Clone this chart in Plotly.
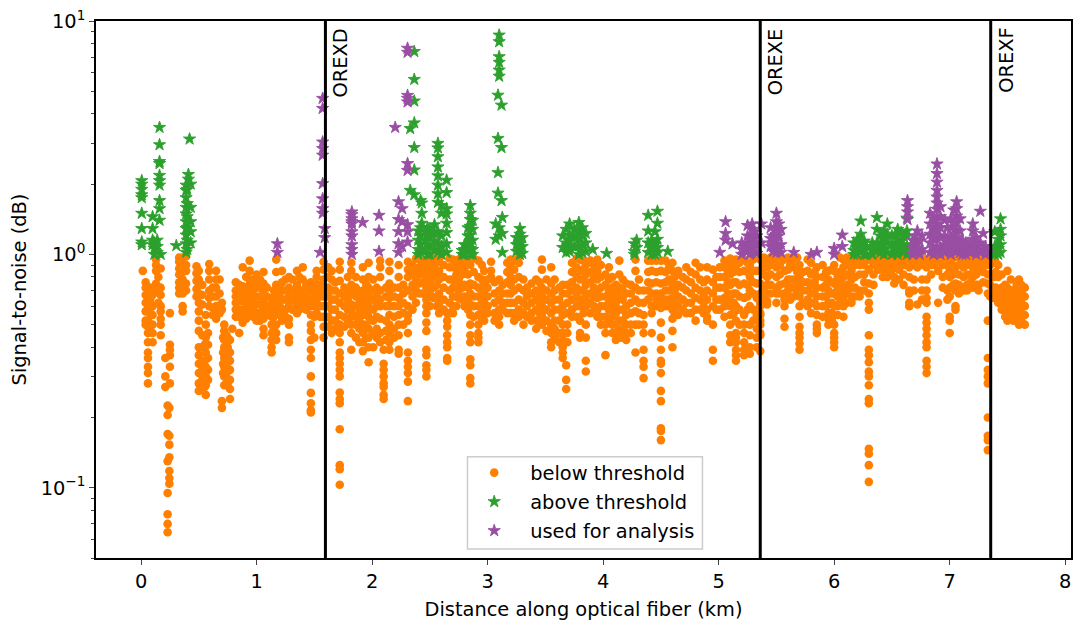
import plotly.graph_objects as go

below_columns = [
(0.015,[.85]),(0.04,[.76,.72,.67,.62,.57,.52,.50]),(0.06,[.71,.64,.59,.52,.49,.46,.42,.38,.36,.33,.31,.28]),
(0.10,[.67,.60,.55,.50,.46,.42]),(0.13,[.95,.90,.85,.75,.70]),(0.17,[.87,.72,.67,.60,.57,.53,.50,.45]),
(0.25,[.56,.41,.39,.37,.33,.28]),(0.21,[.36,.30,.27]),(0.23,[.225,.205,.17,.13,.095,.077,.07,.0645]),(0.245,[.22,.167,.153,.135,.118,.11,.104]),
(0.33,[.97,.93,.87,.82,.76,.72,.68]),(0.36,[.97,.91,.84,.78,.72,.68,.60,.57]),(0.39,[.98,.90,.85,.75,.70]),
(0.48,[.89,.83,.77,.71,.66]),(0.50,[.85,.78,.68,.62,.57,.52,.47,.40,.37,.34,.31,.28,.26]),
(0.59,[.91,.85,.78,.70,.65,.60]),(0.56,[.55,.50,.44,.38,.33,.30,.275,.25]),(0.58,[.46,.41,.36,.32,.29]),
(0.65,[.85,.78,.72,.66,.60,.56,.53]),(0.72,[.50,.47,.43,.40,.36,.33,.30,.275]),(0.77,[.43,.38,.35,.32,.29,.265,.24]),
(0.70,[.235,.22,.62,.58]),(0.79,[.48]),(0.85,[.46]),
(0.82,[.76,.70,.66,.62,.58,.54]),(0.88,[.88,.73,.68,.63,.58,.55,.51]),(0.94,[.94,.85,.78,.74,.70,.65,.60,.55]),
(1.0,[.82,.76,.72,.66,.61,.56,.52]),(1.06,[.84,.75,.70,.64,.58,.53,.48,.45]),(1.13,[.62,.58,.54,.50,.46,.43,.40,.38]),
(1.17,[.95,.84,.74,.68,.62,.56,.50,.46,.43]),(1.22,[.85,.76,.70,.64,.58,.52]),(1.28,[.80,.72,.66,.60,.53,.50,.44,.42]),
(1.35,[.85,.74,.68,.64,.60,.56]),(1.40,[.88,.78,.70,.65,.60]),
(1.47,[.76,.70,.64,.60,.55,.50,.47,.43,.39,.36,.30,.255,.23,.215,.21]),(1.52,[.85,.80,.74,.69,.64,.60,.56]),
(1.58,[.93,.86,.78,.70,.66,.60,.54,.49,.44]),(1.65,[.85,.78,.70,.64,.58,.52,.46]),
(1.72,[.93,.86,.77,.68,.62,.55,.50,.46,.42,.38,.36,.34,.32,.30,.256,.24,.23,.178,.125,.12,.103]),
(1.82,[.92,.85,.74,.68,.61,.57,.54,.50,.46,.39]),(1.92,[.88,.78,.70,.65,.60,.55,.50,.46,.42,.385]),
(1.97,[.92,.80,.72,.66,.60,.54,.48,.44,.40,.345]),(2.07,[.94,.88,.80,.70,.64,.60,.53,.46,.42]),
(2.10,[.39,.34,.32,.30,.28,.27,.25,.24]),(2.15,[.93,.85,.75,.70,.65,.60,.55,.50,.46,.42,.39]),
(2.23,[.90,.80,.72,.65,.60,.55,.50,.45,.39,.375]),(2.31,[.93,.86,.80,.70,.60,.55,.52,.46,.38,.35,.33,.31,.285,.235]),
(2.41,[.95,.88,.82,.75,.68]),(2.47,[.95,.88,.80,.72,.64,.60,.56,.51,.47,.39,.37,.335,.32,.30]),
(2.53,[.96,.88,.80,.72,.65]),(2.58,[.95,.85,.78,.68,.64,.60,.56]),(2.65,[.56,.52,.49,.45,.42,.40,.36,.35]),
(2.70,[.95,.88,.78,.72,.66,.60,.56]),(2.75,[.95,.85,.78,.70,.65]),(2.80,[.95,.85,.74,.66,.60]),
(2.85,[.90,.75,.68,.61,.55,.50,.45,.42,.355,.335,.295,.28]),(2.92,[.94,.80,.72,.66,.60,.55,.50,.46,.44,.42]),
(2.97,[.85,.75,.68,.62,.56,.52]),(3.03,[.93,.85,.80]),(3.10,[.78,.70,.64,.58,.54,.50]),
(3.20,[.95,.88,.80,.74,.68,.62,.56]),(3.27,[.97,.92,.80,.72,.64,.58,.54]),(3.38,[.75,.68,.62,.56,.52]),
(3.47,[.95,.86,.72,.66,.60,.55,.50]),(3.55,[.88,.75,.68,.62,.56,.50,.46,.42,.40]),(3.65,[.74,.68,.60,.55,.50,.46,.43,.40,.38,.36]),
(3.68,[.335,.29,.265]),(3.80,[.95,.85,.78,.70,.64,.60,.52,.46,.44]),(3.85,[.90,.82,.74,.66,.60,.50,.44,.35,.315]),
(3.95,[.95,.85,.78,.70,.65,.58,.54]),(4.02,[.37]),(4.05,[.88,.78,.70,.64,.58,.52]),(4.14,[.94,.82,.72,.65,.58,.52,.47,.44]),
(4.20,[.75,.68,.60,.55,.50,.46,.43]),(4.28,[.95,.85,.72,.64,.57,.50,.38]),(4.35,[.70,.62,.55,.50,.46,.39,.35,.33,.295]),
(4.42,[.94,.85,.75,.68,.60,.56,.46]),(4.50,[.94,.85,.75,.68,.63,.59,.51,.44,.39,.35,.34,.31,.26,.235,.18,.175,.16]),
(4.60,[.92,.85,.75,.72,.65,.58,.53,.47,.40]),(4.65,[.85,.74,.66,.60,.55]),(4.72,[.88,.78,.70,.62,.56]),
(4.80,[.92,.82,.72,.65,.58,.52]),(4.90,[.88,.78,.70,.64,.58,.54,.52]),(4.95,[.86,.76,.68,.60,.50,.39,.35]),
(5.05,[.94,.88,.80,.72,.65,.60,.54]),(5.10,[.96,.90,.82,.74,.66,.60,.55,.50,.45,.42]),
(5.15,[.95,.86,.76,.68,.60,.52,.46,.44,.42,.39,.37,.35]),(5.22,[.95,.85,.75,.65,.55,.50,.46,.42,.39,.37]),
(5.27,[.90,.80,.70,.60,.50,.45,.40,.375]),(5.33,[.85,.75,.65,.55,.48,.44,.40]),
(5.36,[.95,.85,.75,.68,.62,.56,.52,.50,.45,.385,.60,.55,.46]),(5.42,[.95,.88,.80,.74,.68,.63,.61]),
(5.50,[.95,.88,.80,.72,.68,.62]),(5.57,[.95,.85,.75,.68,.64,.60,.53,.49]),(5.65,[.95,.88,.78,.72,.66]),
(5.70,[.90,.80,.72,.66,.60,.54,.49,.46,.44,.415,.39]),(5.77,[.95,.85,.76,.70,.64,.60]),
(5.85,[.88,.80,.72,.66,.60,.55,.50,.48,.46]),(5.95,[.85,.78,.70,.62,.56,.53,.50]),
(6.0,[.90,.85,.75,.68,.60,.55,.50,.46,.44,.42,.40]),(6.08,[.95,.88,.80,.72,.66,.60,.54]),
(6.15,[.95,.85,.78,.72,.66,.62]),(6.22,[.95,.90,.82,.70,.66]),
(6.30,[.95,.86,.75,.68,.62,.58,.45,.39,.37,.345,.315,.30,.275,.24,.23,.147,.14,.125,.106]),
(6.42,[.95,.90,.86,.80]),(6.52,[.95,.88,.80,.75]),(6.65,[.95,.88,.80,.70,.68,.62,.60]),(6.72,[.95,.88,.61]),
(6.80,[.95,.88,.78,.70,.65,.62,.54,.51,.48,.45,.42,.40,.35,.33,.31]),(6.90,[.95,.85,.62]),
(7.0,[.95,.86,.80,.72,.66,.54,.52,.46]),(7.05,[.88,.75,.70,.60,.58]),(7.12,[.95,.88,.80,.70]),
(7.20,[.95,.88,.80,.72]),(7.25,[.95,.85,.74,.70]),(7.33,[.95,.90,.82,.75,.68,.52,.36,.32,.30,.28,.20,.167,.16,.145]),
(7.38,[.95,.80,.70,.65]),(7.42,[.90,.80,.70,.62]),(7.50,[.85,.72,.66,.60,.55,.52]),(7.55,[.70,.65,.60,.56,.52]),
(7.60,[.78,.70,.65,.60,.55,.50]),(7.65,[.72,.66,.60,.55,.50]),
]

below_fill_columns = [
(0.08,[.72,.64,.56]),(0.15,[.80,.70,.62]),(0.35,[.88,.74]),(0.53,[.74,.67,.61,.45,.40,.35,.32,.29]),(0.62,[.72,.66,.59,.55]),(0.68,[.78,.68,.56]),
(0.55,[.41,.35,.31,.27]),(0.71,[.44,.38,.34,.31]),(0.74,[.45,.38,.34,.31,.28]),(0.75,[.40,.36,.32,.28]),(0.85,[.74,.68,.63,.58,.54]),(0.91,[.80,.72,.66,.62,.57,.53]),(0.97,[.78,.72,.67,.62,.58,.54]),
(1.03,[.78,.72,.66,.61,.56,.52]),(1.09,[.72,.66,.60,.55]),(1.15,[.70,.66,.60,.54,.48]),(1.20,[.72,.66,.60,.55]),(1.25,[.78,.70,.64,.58,.54]),
(1.31,[.78,.70,.64,.58]),(1.37,[.80,.70,.62,.58]),(1.43,[.74,.68,.62,.58]),(1.50,[.72,.66,.60,.54,.44]),(1.55,[.74,.66,.60,.54]),
(1.62,[.88,.80,.72,.66,.60,.54,.49]),(1.68,[.76,.70,.64,.58,.52,.48]),(1.76,[.72,.66,.60,.54,.49]),(1.79,[.80,.70,.64,.58,.52]),
(1.86,[.80,.72,.66,.60,.54,.50,.44]),(1.89,[.68,.62,.56,.52,.48,.42]),(1.95,[.74,.68,.62,.56,.50,.44]),(2.01,[.78,.70,.64,.58,.52,.46,.40]),
(2.04,[.72,.66,.60,.54,.48,.44]),(2.12,[.72,.66,.60,.52,.47,.43]),(2.19,[.72,.66,.60,.54,.48,.44]),(2.27,[.74,.68,.62,.56,.50]),
(2.35,[.90,.82,.74,.66,.58]),(2.38,[.96,.86,.78,.70,.62]),(2.44,[.92,.84,.76,.68]),(2.50,[.92,.84,.76,.68,.60]),(2.56,[.92,.82,.74,.66,.60]),
(2.62,[.90,.80,.72,.64,.58]),(2.67,[.96,.88,.78,.70,.62,.56]),(2.73,[.92,.82,.74,.66,.60]),(2.78,[.90,.82,.72,.64]),(2.83,[.92,.82,.72,.64,.58]),
(2.88,[.96,.84,.74,.66,.60,.54]),(2.95,[.90,.78,.70,.64,.58,.53]),(3.0,[.78,.72,.66,.60,.56]),(3.06,[.76,.68,.62,.56,.52]),(3.13,[.74,.68,.62,.58]),
(3.17,[.92,.84,.76,.68,.62,.56]),(3.23,[.94,.86,.78,.70,.62,.56,.52]),(3.31,[.78,.70,.62,.56,.50]),(3.34,[.72,.66,.60,.54]),(3.42,[.78,.70,.64,.58,.52,.48]),
(3.45,[.76,.68,.62,.56,.52]),(3.51,[.78,.70,.64,.58,.52,.47]),(3.58,[.78,.70,.64,.58,.52,.48,.44]),(3.62,[.72,.64,.58,.52,.46,.42]),(3.69,[.74,.68,.62,.56,.50,.46,.42]),
(3.73,[.92,.84,.76,.70,.64,.58,.54]),(3.77,[.96,.88,.80,.72,.66,.60,.54]),(3.83,[.94,.86,.78,.70,.64,.56]),(3.89,[.94,.84,.76,.68,.62,.56]),
(3.92,[.90,.80,.72,.66,.60]),(3.98,[.90,.80,.72,.66,.60,.54,.50]),(4.02,[.82,.74,.66,.60,.54,.50,.46]),(4.08,[.80,.72,.66,.60,.54,.50,.46]),
(4.11,[.74,.68,.62,.56,.50,.46,.43]),(4.17,[.78,.70,.64,.58,.52,.48,.44]),(4.24,[.74,.68,.62,.56,.50,.46]),(4.31,[.78,.70,.62,.56,.50]),
(4.39,[.94,.84,.76,.70,.64]),(4.46,[.94,.84,.76,.68,.64,.60]),(4.54,[.94,.84,.76,.70,.64,.60]),(4.57,[.88,.78,.70,.64,.60]),(4.62,[.80,.70,.62,.56]),
(4.69,[.80,.72,.64,.58]),(4.76,[.84,.76,.68,.62,.56]),(4.84,[.88,.78,.70,.64,.58]),(4.87,[.76,.68,.62,.56]),(4.98,[.80,.72,.64,.58]),
(5.01,[.88,.80,.72,.64,.58]),(5.08,[.92,.84,.76,.68,.62]),(5.13,[.92,.84,.76,.68,.62,.56]),(5.18,[.92,.84,.74,.66,.58,.50]),(5.25,[.92,.84,.74,.66,.58]),
(5.30,[.95,.85,.76,.68,.58,.52]),(5.39,[.97,.90,.82,.72,.66]),(5.45,[.97,.90,.82,.74,.68]),(5.53,[.97,.90,.82,.74,.68]),(5.60,[.97,.86,.78,.70,.66]),
(5.62,[.90,.78,.72,.64]),(5.68,[.97,.84,.74,.68]),(5.73,[.84,.76,.70,.62]),(5.80,[.92,.82,.74,.68,.62,.56]),(5.83,[.84,.76,.68,.62]),
(5.90,[.90,.80,.72,.66,.60,.54]),(5.93,[.84,.74,.66,.60]),(5.98,[.86,.76,.68,.62,.56,.52]),(6.03,[.80,.72,.66,.60,.55]),(6.05,[.97,.84,.76,.68,.62]),
(6.11,[.97,.90,.82,.74,.68,.62]),(6.18,[.97,.90,.80,.72,.66]),(6.26,[.97,.90,.82,.76,.70]),(6.34,[.97,.90,.82,.74]),(6.38,[.97,.92,.86]),
(6.46,[.97,.92,.86,.80]),(6.49,[.97,.90,.84]),(6.56,[.97,.92,.86,.78]),(6.60,[.97,.90,.82,.74]),(6.69,[.97,.90,.78,.70]),(6.76,[.97,.90,.78,.70,.64]),
(6.84,[.97,.90,.82]),(6.87,[.97,.90]),(6.94,[.97,.90,.80,.72]),(6.98,[.97,.90,.82,.70,.64]),(7.03,[.97,.90,.82,.74]),(7.08,[.97,.90,.82,.74,.68]),
(7.15,[.97,.90,.82,.74,.70]),(7.18,[.97,.90,.82,.76]),(7.23,[.97,.90,.82,.74]),(7.29,[.97,.90,.84,.76]),(7.35,[.97,.90,.82,.74,.66]),
(7.40,[.92,.84,.72,.66]),(7.45,[.82,.72,.66,.62,.58]),(7.48,[.74,.68,.62,.58,.54]),(7.53,[.78,.70,.64,.58,.54]),(7.58,[.74,.68,.62,.56,.52]),(7.62,[.74,.68,.62,.56,.52]),
]

above_columns = [
(0.006,[2.07,2.0,1.9,1.8,1.75,1.5,1.29,1.13,1.1]),(0.10,[1.45,1.29,1.15,1.1]),(0.115,[1.12,1.06,1.0]),(0.14,[1.15,1.08,1.02]),
(0.16,[3.5,2.95,2.5,2.45,2.18,2.07,1.98,1.7,1.57,1.4]),(0.17,[1.0]),(0.305,[1.09]),(0.42,[3.12]),(0.41,[2.2,2.1]),
(0.39,[1.98,1.88,1.75,1.59,1.49,1.38,1.29,1.21,1.11,1.02]),(0.43,[2.0,1.59,1.38,1.25,1.12]),(0.40,[1.9,1.65,1.45,1.3,1.15,1.05]),
(2.365,[7.4,5.62,4.54,3.66,2.87,2.3,1.8]),(2.33,[3.46,1.88]),(2.42,[1.7,1.3,1.2,1.1,1.02]),(2.43,[1.66,1.5,1.36]),
(2.40,[1.26,1.15,1.05,1.0]),(2.46,[1.25,1.15,1.05]),(2.48,[1.3,1.2,1.1,1.0]),(2.50,[1.28,1.18,1.08,1.0]),
(2.57,[2.99,2.86,2.62,2.37,2.17,1.98,1.82,1.67,1.25,1.12,1.02]),(2.54,[1.34,1.23,1.14,1.05]),(2.60,[1.62,1.5,1.2,1.08,1.0]),
(2.645,[2.08,1.84,1.57,1.49,1.36,1.24,1.11,1.02]),(2.80,[1.1,1.05,1.0]),(2.83,[1.3,1.2,1.1,1.03]),
(2.85,[1.62,1.5,1.41,1.32,1.21,1.13,1.06,1.0]),(2.87,[1.4,1.28,1.15,1.05,1.0]),(2.78,[1.04,1.0]),
(3.10,[8.7,8.15,7.03,6.65,6.16,5.8]),(3.09,[4.81,3.14,2.24,1.83]),(3.12,[4.36,2.87,1.7]),(3.127,[1.44,1.23,1.02]),(3.07,[1.35,1.16]),(3.10,[1.3,1.2]),
(3.28,[1.29,1.22,1.16,1.11,1.06,1.0]),(3.25,[1.18,1.1,1.03]),(3.30,[1.18,1.08,1.01]),
(3.65,[1.2,1.07]),(3.68,[1.28,1.12,1.02]),(3.71,[1.35,1.21,1.14,1.07,1.03]),(3.75,[1.28,1.18,1.08]),(3.79,[1.37,1.25,1.17,1.09,1.0]),(3.82,[1.3,1.2,1.1,1.02]),(3.85,[1.23,1.12,1.03]),(3.91,[1.05]),
(4.03,[1.01]),(4.27,[1.11,1.03,1.0]),(4.29,[1.15,1.07]),(4.39,[1.47,1.26,1.12,1.02]),(4.42,[1.15,1.06,1.0]),(4.47,[1.53,1.36,1.16,1.07,1.02]),(4.45,[1.25,1.1,1.0]),(4.56,[1.03]),
(6.17,[1.12,1.04,1.0]),(6.20,[1.16,1.06,1.0]),(6.23,[1.39,1.22,1.12,1.03]),(6.26,[1.14,1.05,1.0]),(6.28,[1.08,1.0]),
(6.33,[1.12,1.05,1.0]),(6.37,[1.44,1.28,1.12,1.04]),(6.40,[1.2,1.1,1.02]),(6.43,[1.26,1.16,1.06,1.0]),(6.46,[1.35,1.22,1.12,1.02]),(6.50,[1.2,1.1,1.0]),
(6.53,[1.22,1.12,1.04]),(6.55,[1.28,1.16,1.08,1.0]),(6.58,[1.24,1.14,1.04]),(6.60,[1.2,1.1,1.02]),
(6.63,[1.43,1.26,1.2,1.08,1.0]),
(7.44,[1.42,1.28,1.2,1.1,1.02]),(7.39,[1.25,1.08,1.0]),(7.42,[1.16,1.06,1.0]),
]

used_columns = [
(1.18,[1.11,1.02]),(1.572,[4.66,4.22,3.03,2.84,2.66,2.01,1.73,1.57,1.5]),(1.59,[1.29,1.18]),(1.55,[1.02]),
(1.825,[1.52,1.48,1.42,1.38,1.35,1.25,1.2,1.1,1.05,1.0]),(1.918,[1.37]),(2.06,[1.47,1.26,1.03]),
(2.229,[1.68,1.41,1.25,1.11,1.02]),(2.307,[7.64,7.34,4.8,4.66,4.5,2.45,2.29,1.34,1.25,1.13]),(2.2,[3.5]),(2.26,[1.57,1.38,1.08]),
(5.06,[1.38,1.23,1.15]),(5.12,[1.11]),(5.01,[1.02]),(5.25,[1.33,1.2,1.1,1.03]),(5.24,[1.08]),
(5.29,[1.35,1.28,1.2,1.15,1.07,1.02]),(5.33,[1.2,1.1,1.01]),(5.37,[1.35,1.12]),(5.20,[1.12,1.05,1.0]),(5.27,[1.15,1.06,1.0]),(5.31,[1.25,1.12,1.03]),
(5.5,[1.5,1.38,1.3,1.22,1.15,1.07,1.02]),(5.45,[1.3,1.17,1.08]),(5.54,[1.28,1.1,1.02]),(5.47,[1.2,1.1,1.03]),(5.52,[1.35,1.2,1.06]),
(5.65,[1.02]),(5.8,[1.0]),(5.85,[1.02]),(6.0,[1.06,1.0]),(6.07,[1.21,1.08]),
(6.635,[1.7,1.6,1.52,1.41]),(6.72,[1.26,1.12,1.04]),(6.68,[1.15,1.06,1.0]),(6.76,[1.2,1.05]),(6.70,[1.2,1.1,1.02]),(6.74,[1.14,1.0]),
(6.83,[1.5,1.35,1.22,1.12,1.02]),(6.86,[1.42,1.28,1.16,1.06,1.0]),(6.89,[2.44,2.22,2.04,1.88,1.76,1.66,1.56,1.45,1.35,1.26,1.17,1.08,1.02]),
(6.92,[1.6,1.45,1.3,1.18,1.06,1.0]),(6.955,[1.4,1.2,1.1,1.02]),(6.98,[1.3,1.16,1.05]),(7.01,[1.42,1.3,1.18,1.08,1.0]),
(7.06,[1.68,1.57,1.46,1.36,1.27,1.18,1.1,1.03]),(7.035,[1.55,1.36,1.22,1.12,1.04]),(7.09,[1.42,1.26,1.12,1.02]),
(7.11,[1.15,1.07,1.0]),(7.14,[1.12,1.05,1.0]),(7.16,[1.1,1.03]),(7.18,[1.1,1.02]),(7.2,[1.35,1.26,1.16,1.05]),(7.23,[1.18,1.08,1.0]),(7.265,[1.53,1.12,1.02]),(7.29,[1.23,1.05]),(7.31,[1.08,1.0]),(7.33,[1.02]),
]

marker_names = ["OREXD", "OREXE", "OREXF"]
marker_positions = [1.596, 5.36, 7.355]
x_tick_values = [0, 1, 2, 3, 4, 5, 6, 7, 8]
y_tick_values = [0.1, 1, 10]
y_tick_labels = ["10<sup>\u22121</sup>", "10<sup>0</sup>", "10<sup>1</sup>"]
y_minor_values = [0.05,0.06,0.07,0.08,0.09,0.2,0.3,0.4,0.5,0.6,0.7,0.8,0.9,2,3,4,5,6,7,8,9]

def flatten(columns):
    xs, ys = [], []
    for x, values in columns:
        for v in values:
            xs.append(x)
            ys.append(v)
    return xs, ys

FONT = "DejaVu Sans"
TEXT = 19.4
def label(text):
    return f'<span style="font-size:{TEXT}px">{text}</span>'

fig = go.Figure()
bx, by = flatten(below_columns + below_fill_columns)
ax, ay = flatten(above_columns)
ux, uy = flatten(used_columns)
fig.add_trace(go.Scatter(x=bx, y=by, mode="markers", name=label("below threshold"),
                         marker=dict(symbol="circle", size=8.6, color="#ff7f00")))
fig.add_trace(go.Scatter(x=ax, y=ay, mode="markers", name=label("above threshold"),
                         marker=dict(symbol="star", size=9.2, color="#2ca02c", line=dict(width=0.9, color="#2ca02c"))))
fig.add_trace(go.Scatter(x=ux, y=uy, mode="markers", name=label("used for analysis"),
                         marker=dict(symbol="star", size=9.2, color="#984ea3", line=dict(width=0.9, color="#984ea3"))))

for name, pos in zip(marker_names, marker_positions):
    fig.add_shape(type="line", xref="x", yref="paper", x0=pos, x1=pos, y0=0, y1=1,
                  line=dict(color="black", width=3))
    fig.add_annotation(x=pos, y=1, xref="x", yref="y domain", text=name, textangle=-90,
                       showarrow=False, xanchor="left", yanchor="top", xshift=2, yshift=-5,
                       font=dict(family=FONT, size=TEXT, color="black"))

# legend frame
fig.add_shape(type="rect", xref="paper", yref="paper", x0=0.381, x1=0.622, y0=0.0168, y1=0.1885,
              line=dict(color="#cccccc", width=1.5), fillcolor="rgba(255,255,255,0.85)", layer="above")

fig.update_layout(
    width=1073, height=622, margin=dict(l=96, r=0, t=21, b=64),
    paper_bgcolor="white", plot_bgcolor="white",
    font=dict(family=FONT, size=TEXT, color="black"),
    legend=dict(x=0.3715, y=0.1953, xanchor="left", yanchor="top", borderwidth=0,
                bgcolor="rgba(0,0,0,0)", font=dict(family=FONT, size=20), itemwidth=62, itemsizing="trace"),
    xaxis=dict(range=[-0.39, 8.05], tickvals=x_tick_values, ticks="outside", ticklen=5, tickwidth=1.3,
               showgrid=False, zeroline=False, showline=True, linecolor="black", linewidth=1.5, mirror=True,
               title=dict(text="Distance along optical fiber (km)", standoff=10, font=dict(size=TEXT))),
    yaxis=dict(type="log", range=[-1.301, 1], tickvals=y_tick_values, ticktext=y_tick_labels,
               ticks="outside", ticklen=5, tickwidth=1.3, showgrid=False, zeroline=False,
               showline=True, linecolor="black", linewidth=1.5, mirror=True,
               minor=dict(tickvals=y_minor_values, ticks="outside", ticklen=3, tickwidth=1, showgrid=False),
               title=dict(text="Signal-to-noise (dB)", standoff=9, font=dict(size=TEXT))),
)
fig.write_html("out.html", config={"displayModeBar": False}, post_script="document.body.style.margin='0';")
